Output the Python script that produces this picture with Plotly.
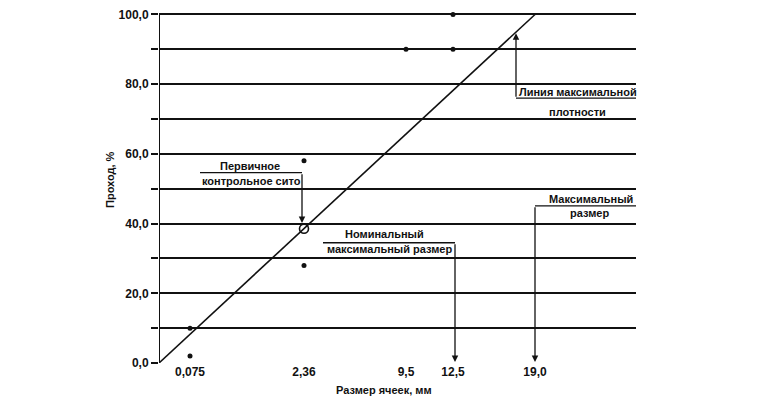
import plotly.graph_objects as go

# ---- data ----
sieve_labels = ["0,075", "2,36", "9,5", "12,5", "19,0"]
sieve_mm = [0.075, 2.36, 9.5, 12.5, 19.0]
# abscissa as drawn on the chart (sieve size raised to the 0.45 power)
sieve_axis_pos = [0.31, 1.45, 2.47, 2.94, 3.76]

# control points (sieve, % passing)
ctrl_sieve = [0.075, 0.075, 2.36, 2.36, 9.5, 12.5, 12.5]
ctrl_pass = [10.0, 2.0, 58.0, 28.0, 90.0, 100.0, 90.0]

# maximum density line: from 0 to maximum size
mdl_sieve = [0.0, 19.0]
mdl_pass = [0.0, 100.0]

# primary control sieve
pcs_sieve = [2.36]
pcs_pass = [38.5]

y_ticks = [0, 10, 20, 30, 40, 50, 60, 70, 80, 90, 100]
y_labels = ["0,0", "", "20,0", "", "40,0", "", "60,0", "", "80,0", "", "100,0"]

pos = dict(zip(sieve_mm, sieve_axis_pos))
pos[0.0] = 0.0

def px(v):
    return [pos[s] for s in v]

FONT = "Liberation Sans, Arial, sans-serif"
INK = "#111111"

fig = go.Figure()

fig.add_trace(go.Scatter(
    x=px(mdl_sieve), y=mdl_pass, mode="lines",
    line=dict(color=INK, width=1.6), hoverinfo="skip", showlegend=False))

fig.add_trace(go.Scatter(
    x=px(ctrl_sieve), y=ctrl_pass, mode="markers",
    marker=dict(color=INK, size=5), cliponaxis=False, showlegend=False))

fig.add_trace(go.Scatter(
    x=px(pcs_sieve), y=pcs_pass, mode="markers",
    marker=dict(color="rgba(0,0,0,0)", size=9, line=dict(color=INK, width=1.6)),
    cliponaxis=False, showlegend=False))

x236 = pos[2.36]
x125 = pos[12.5]
x19 = pos[19.0]

shapes = []
def seg(x0, y0, x1, y1, w=1.3):
    shapes.append(dict(type="line", xref="x", yref="y", x0=x0, y0=y0, x1=x1, y1=y1,
                       line=dict(color=INK, width=w)))

# leader lines
seg(0.41, 54.6, x236 - 0.02, 54.6)
seg(1.64, 34.5, x125 + 0.02, 34.5)
seg(3.57, 76.0, 4.77, 76.0)
seg(x19, 45.1, 4.77, 45.1)

annotations = []
def arrow(x, y, ax, ay):
    annotations.append(dict(x=x, y=y, ax=ax, ay=ay, xref="x", yref="y", axref="x", ayref="y",
                            text="", showarrow=True, arrowhead=2, arrowsize=1.0,
                            arrowwidth=1.3, arrowcolor=INK))

arrow(x236 - 0.02, 40.2, x236 - 0.02, 54.6)
arrow(x125 + 0.02, 0.3, x125 + 0.02, 34.5)
arrow(x19, 0.3, x19, 45.1)
arrow(3.57, 94.6, 3.57, 76.0)

def label(x, y, t, size=11):
    annotations.append(dict(x=x, y=y, xref="x", yref="y", text=t, showarrow=False,
                            font=dict(family=FONT, size=size, color=INK, weight="bold"),
                            xanchor="center", yanchor="middle"))

label(0.91, 56.6, "Первичное")
label(0.92, 52.2, "контрольное сито")
label(2.25, 36.9, "Номинальный")
label(2.30, 32.7, "максимальный размер")
label(4.19, 77.8, "Линия максимальной")
label(4.18, 72.0, "плотности")
label(4.32, 47.0, "Максимальный")
label(4.30, 43.0, "размер")

# axis titles
annotations.append(dict(x=0.4717, y=-0.076, xref="paper", yref="paper", text="Размер ячеек, мм",
                        showarrow=False, xanchor="center", yanchor="middle",
                        font=dict(family=FONT, size=11, color=INK, weight="bold")))
annotations.append(dict(x=-0.1027, y=0.52, xref="paper", yref="paper", text="Проход, %",
                        textangle=-90, showarrow=False, xanchor="center", yanchor="middle",
                        font=dict(family=FONT, size=11, color=INK, weight="bold")))

# page body has an 8px default margin: the figure is sized/placed to compensate
fig.update_layout(
    width=766, height=391,
    margin=dict(l=151, r=138, t=3, b=36),
    paper_bgcolor="white", plot_bgcolor="white",
    shapes=shapes, annotations=annotations,
    xaxis=dict(range=[0, 4.77], tickvals=sieve_axis_pos, ticktext=sieve_labels,
               showgrid=False, zeroline=False, showline=False, ticks="", automargin=False,
               tickfont=dict(family=FONT, size=12, color=INK, weight="bold")),
    yaxis=dict(range=[0, 101], tickvals=y_ticks, ticktext=y_labels, automargin=False,
               ticklabeloverflow="allow",
               showgrid=True, gridcolor=INK, gridwidth=1.6, zeroline=False,
               showline=False, linecolor=INK, linewidth=2,
               ticks="outside", ticklen=7, tickwidth=1.6, tickcolor=INK,
               tickfont=dict(family=FONT, size=12, color=INK, weight="bold")),
)
# y axis line from 0 to 100
seg(0, 0, 0, 100, w=2)
fig.update_layout(shapes=shapes)

fig.write_html("out.html")
